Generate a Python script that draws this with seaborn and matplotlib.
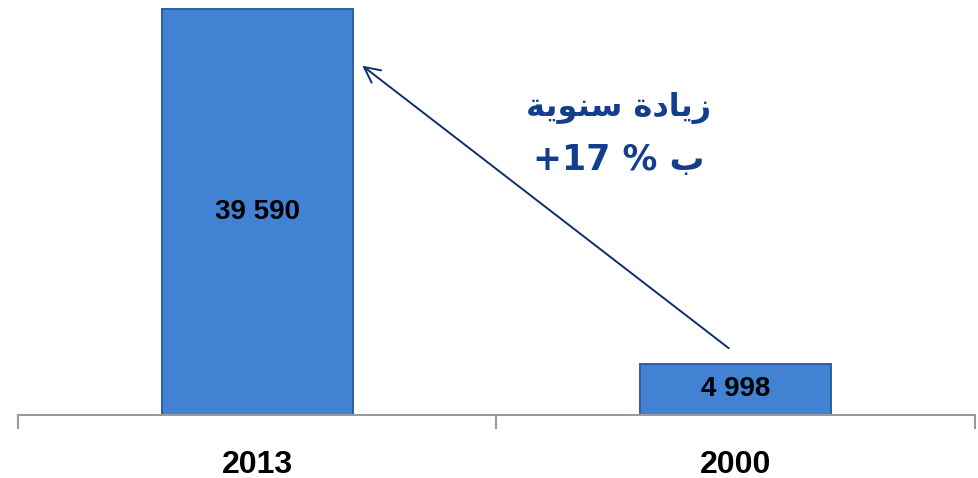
import pandas as pd
import matplotlib
matplotlib.use("Agg")
import matplotlib.pyplot as plt
import seaborn as sns

# data
years = ["2013", "2000"]
values = [39590, 4998]
# Arabic annotation (presentation forms, visual order)
growth_line1 = "\uFE94\uFEF3\uFEEE\uFEE8\uFEB3 \uFE93\uFEA9\uFE8E\uFEF3\uFEAF"
growth_line2 = "+17 % \uFE8F"

sns.set_style("white")
plt.rcParams["font.family"] = ["Liberation Sans", "DejaVu Sans"]

df = pd.DataFrame({"year": years, "value": values})

fig = plt.figure(figsize=(9.79, 4.78), dpi=100)
ax = fig.add_axes([18 / 979, 63 / 478, 957 / 979, 410 / 478])

sns.barplot(data=df, x="year", y="value", order=years, width=0.4,
            color="#4282D3", saturation=1, edgecolor="#2E5E9E", linewidth=1.4, ax=ax)

ax.set_xlim(-0.5, 1.5)
ax.set_ylim(0, 40000)

# value labels in the middle of each bar
for i, v in enumerate(values):
    ax.text(i, v / 2, f"{v:,}".replace(",", " "), ha="center", va="center",
            fontsize=20, fontweight="bold", color="black")

# arrow from the 2000 bar to the 2013 bar
ax.annotate("", xy=(0.215, values[0] * 0.865), xytext=(0.99, values[1] * 1.27),
            arrowprops=dict(arrowstyle="->", color="#0D2F6B", lw=1.4,
                            mutation_scale=28))

fig.text(0.632, 0.775, growth_line1, ha="center", va="center",
         fontsize=23, fontweight="bold", color="#123E8C", family=["DejaVu Sans"])
fig.text(0.632, 0.665, growth_line2, ha="center", va="center",
         fontsize=25, fontweight="bold", color="#123E8C", family=["DejaVu Sans"])

# axis styling
for s in ["top", "right", "left"]:
    ax.spines[s].set_visible(False)
ax.spines["bottom"].set_color("#9A9A9A")
ax.spines["bottom"].set_linewidth(1.5)
ax.set_yticks([])
ax.set_xlabel("")
ax.set_ylabel("")
ax.set_xticks(range(len(years)))
ax.set_xticklabels(years, fontsize=23, fontweight="bold", color="black")
ax.tick_params(axis="x", which="major", bottom=False, length=0, pad=25)
ax.set_xticks([-0.5, 0.5, 1.5], minor=True)
ax.tick_params(axis="x", which="minor", bottom=True, length=10, width=1.5,
               color="#9A9A9A", direction="out")

fig.savefig("out.png", dpi=100)
